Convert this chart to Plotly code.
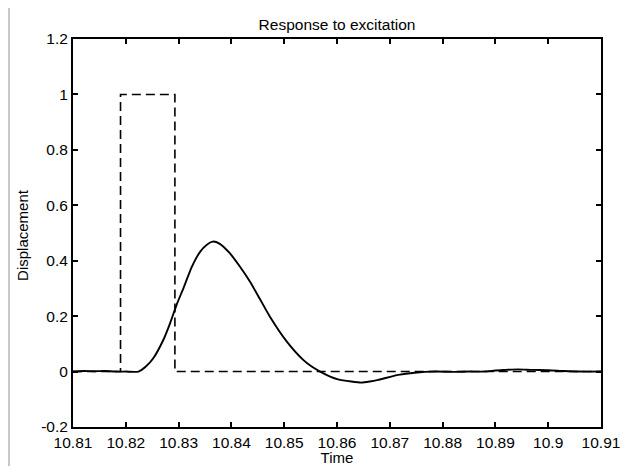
import plotly.graph_objects as go

# Excitation (dashed rectangular pulse)
exc_t = [10.81, 10.819, 10.819, 10.8293, 10.8293, 10.91]
exc_v = [0.0, 0.0, 1.0, 1.0, 0.0, 0.0]

# Response (solid)
resp_t = [10.810, 10.812, 10.814, 10.816, 10.818, 10.820, 10.8224, 10.8238, 10.8252,
          10.8271, 10.8284, 10.8296, 10.8310, 10.8325, 10.8341, 10.8353, 10.8365,
          10.8378, 10.8397, 10.8416, 10.8435, 10.8454, 10.8473, 10.8505, 10.8536,
          10.8552, 10.8568, 10.8587, 10.8602, 10.8627, 10.8646, 10.8662, 10.8678,
          10.8716, 10.8747, 10.8787, 10.882, 10.885, 10.888, 10.890, 10.892, 10.8943,
          10.897, 10.900, 10.903, 10.906, 10.910]
resp_v = [0.0, 0.002, 0.001, 0.002, 0.0, 0.0, 0.0, 0.018, 0.048, 0.114, 0.175, 0.24,
          0.305, 0.378, 0.433, 0.457, 0.469, 0.461, 0.427, 0.379, 0.325, 0.262, 0.198,
          0.108, 0.042, 0.018, 0.0, -0.018, -0.028, -0.036, -0.040, -0.036, -0.030,
          -0.012, -0.004, 0.0, -0.001, 0.0, 0.0, 0.004, 0.006, 0.008, 0.006, 0.005,
          0.002, 0.0, 0.0]

x_ticks = [10.81, 10.82, 10.83, 10.84, 10.85, 10.86, 10.87, 10.88, 10.89, 10.9, 10.91]
x_labels = ["10.81", "10.82", "10.83", "10.84", "10.85", "10.86", "10.87", "10.88", "10.89", "10.9", "10.91"]
y_ticks = [-0.2, 0, 0.2, 0.4, 0.6, 0.8, 1, 1.2]
y_labels = ["-0.2", "0", "0.2", "0.4", "0.6", "0.8", "1", "1.2"]

FONT = "Liberation Sans, Arial, sans-serif"

fig = go.Figure()
fig.add_trace(go.Scatter(x=exc_t, y=exc_v, mode="lines",
                         line=dict(color="black", width=1.6, dash="9px,5px"),
                         showlegend=False))
fig.add_trace(go.Scatter(x=resp_t, y=resp_v, mode="lines",
                         line=dict(color="black", width=1.9, shape="spline", smoothing=0.6),
                         showlegend=False))

axis_common = dict(showgrid=False, zeroline=False, showline=True, linecolor="black",
                   linewidth=2, mirror="ticks", ticks="inside", ticklen=5,
                   tickwidth=1.5, tickcolor="black", automargin=False,
                   tickfont=dict(family=FONT, size=15.5, color="black"))

fig.update_layout(
    width=622, height=458,
    margin=dict(l=65, r=29, t=31, b=39),
    paper_bgcolor="white", plot_bgcolor="white",
    title=dict(text="Response to excitation", x=0.5, xanchor="center", xref="paper",
               y=1.0, yref="paper", yanchor="bottom", pad=dict(b=9),
               font=dict(family=FONT, size=15.5, color="black")),
    xaxis=dict(range=[10.81, 10.91], tickvals=x_ticks, ticktext=x_labels,
               title=dict(text="Time", standoff=2,
                          font=dict(family=FONT, size=15, color="black")),
               **axis_common),
    yaxis=dict(range=[-0.2, 1.2], tickvals=y_ticks, ticktext=y_labels,
               **axis_common),
    annotations=[
        dict(text="Displacement", xref="paper", yref="paper", x=-0.0947, y=0.495,
             xanchor="center", yanchor="middle", textangle=-90, showarrow=False,
             font=dict(family=FONT, size=15, color="black")),
    ],
    shapes=[
        dict(type="line", xref="paper", yref="paper", x0=-0.1212, x1=-0.1212, y0=-0.1005, y1=1.08,
             line=dict(color="#c8c8c8", width=2)),
    ],
)

fig.write_html("out.html")
